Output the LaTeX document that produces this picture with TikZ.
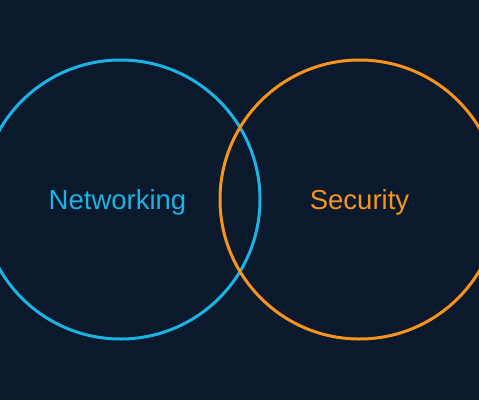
\documentclass[tikz,border=0pt]{standalone}
\usepackage{fontspec}
\setmainfont{Liberation Sans}
\usepackage{xcolor}

\definecolor{bgnavy}{HTML}{0A192C}
\definecolor{netblue}{HTML}{1BB3E4}
\definecolor{secorange}{HTML}{F7941D}

\begin{document}
\begin{tikzpicture}[
		x=1pt, y=1pt,
		ring/.style={
			draw=#1, line width=3pt, circle,
			minimum size=279pt, inner sep=0pt
		},
		tag/.style={
			text=#1, inner sep=0pt,
			font=\fontsize{27.5}{32}\selectfont
		},
		]
		
		\fill[bgnavy] (0, 0) rectangle (479, 400);
		\useasboundingbox (0, 0) rectangle (479, 400);
		
		\node[ring=netblue]   (net) at (120.5, 200.5) {};
		\node[ring=secorange] (sec) at (359.5, 200.5) {};
		
		\node[tag=netblue]   (netlabel) at ([xshift=-3pt, yshift=-3pt]net.center) {Networking};
		\node[tag=secorange] (seclabel) at ([xshift=0pt, yshift=-3pt]sec.center) {Security};
		
	\end{tikzpicture}
\end{document}
